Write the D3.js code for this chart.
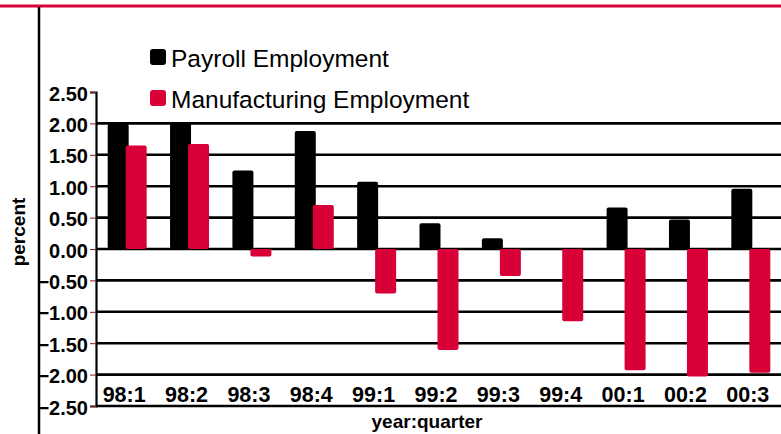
<!DOCTYPE html>
<html>
<head>
<meta charset="utf-8">
<script src="https://cdn.jsdelivr.net/npm/d3@7"></script>
<style>
    body { margin: 0; background: #fff; }
    svg { display: block; font-family: "Liberation Sans", Arial, sans-serif; }
</style>
</head>
<body>
<div id="chart"></div>
<script>
// Data
const quarters = ['98:1', '98:2', '98:3', '98:4', '99:1', '99:2', '99:3', '99:4', '00:1', '00:2', '00:3'];
const payroll = [1.99, 2.02, 1.25, 1.88, 1.07, 0.41, 0.17, 0.0, 0.66, 0.47, 0.96];
const manufacturing = [1.65, 1.67, -0.12, 0.70, -0.71, -1.61, -0.43, -1.15, -1.93, -2.03, -1.97];
const seriesNames = ['Payroll Employment', 'Manufacturing Employment'];
const yTicks = [2.5, 2.0, 1.5, 1.0, 0.5, 0.0, -0.5, -1.0, -1.5, -2.0, -2.5];

const colors = { 'Payroll Employment': '#000000', 'Manufacturing Employment': '#d80036' };

const width = 781;
const height = 434;

const svg = d3.select('#chart')
    .append('svg')
    .attr('width', width)
    .attr('height', height);

// Scales
const x = d3.scaleBand()
    .domain(quarters)
    .range([96, 782])
    .paddingInner(0);

const x1 = d3.scaleBand()
    .domain(seriesNames)
    .range([0, 36]);

const y = d3.scaleLinear()
    .domain([-2.5, 2.5])
    .range([406, 92]);

const barWidth = 21;
const groupOffset = (x.bandwidth() - (x1.bandwidth() + barWidth)) / 2;

// Header rule and left frame line
svg.append('line')
    .attr('x1', 0).attr('x2', width)
    .attr('y1', 6).attr('y2', 6)
    .attr('stroke', '#d80036')
    .attr('stroke-width', 2.8);

svg.append('line')
    .attr('x1', 39).attr('x2', 39)
    .attr('y1', 7).attr('y2', height)
    .attr('stroke', '#000')
    .attr('stroke-width', 2.5);

// Gridlines (none at the top value)
svg.append('g')
    .selectAll('line')
    .data(yTicks.filter(d => d < 2.5))
    .join('line')
    .attr('x1', 96).attr('x2', width)
    .attr('y1', d => y(d)).attr('y2', d => y(d))
    .attr('stroke', '#000')
    .attr('stroke-width', 2.6);

// Y axis
const yAxis = svg.append('g')
    .attr('transform', 'translate(96,0)')
    .call(d3.axisLeft(y)
        .tickValues(yTicks)
        .tickSize(6)
        .tickPadding(2)
        .tickFormat(d3.format('.2f')));

yAxis.select('.domain')
    .attr('stroke', '#000')
    .attr('stroke-width', 2.2);
yAxis.selectAll('.tick line')
    .attr('stroke', '#8b1a1a')
    .attr('stroke-width', 1);
yAxis.selectAll('.tick text')
    .attr('fill', '#000')
    .attr('font-size', 20)
    .attr('font-weight', 'bold')
    .attr('font-family', '"Liberation Sans", Arial, sans-serif')
    .attr('dy', '0.4em');

// Bars: payroll first, manufacturing drawn over it
const groups = svg.append('g')
    .selectAll('g')
    .data(quarters)
    .join('g')
    .attr('transform', d => `translate(${x(d) + groupOffset},0)`);

groups.append('rect')
    .attr('x', x1('Payroll Employment'))
    .attr('y', (d, i) => y(Math.max(0, payroll[i])))
    .attr('width', barWidth)
    .attr('height', (d, i) => Math.abs(y(payroll[i]) - y(0)))
    .attr('rx', 2)
    .attr('fill', colors['Payroll Employment']);

groups.append('rect')
    .attr('x', x1('Manufacturing Employment'))
    .attr('y', (d, i) => y(Math.max(0, manufacturing[i])))
    .attr('width', barWidth)
    .attr('height', (d, i) => Math.abs(y(manufacturing[i]) - y(0)))
    .attr('rx', 2)
    .attr('fill', colors['Manufacturing Employment']);

// Category labels
svg.append('g')
    .selectAll('text')
    .data(quarters)
    .join('text')
    .attr('x', d => x(d) + x.bandwidth() / 2 - 3)
    .attr('y', 402)
    .attr('text-anchor', 'middle')
    .attr('font-size', 21.5)
    .attr('font-weight', 'bold')
    .text(d => d);

// Axis titles
svg.append('text')
    .attr('x', 427)
    .attr('y', 428)
    .attr('text-anchor', 'middle')
    .attr('font-size', 19)
    .attr('font-weight', 'bold')
    .text('year:quarter');

svg.append('text')
    .attr('transform', 'translate(25,232) rotate(-90)')
    .attr('text-anchor', 'middle')
    .attr('font-size', 19)
    .attr('font-weight', 'bold')
    .text('percent');

// Legend
const legend = svg.append('g')
    .selectAll('g')
    .data(seriesNames)
    .join('g')
    .attr('transform', (d, i) => `translate(150,${49 + i * 41})`);

legend.append('rect')
    .attr('width', 16)
    .attr('height', 16)
    .attr('rx', 3)
    .attr('fill', d => colors[d]);

legend.append('text')
    .attr('x', 21)
    .attr('y', 17.5)
    .attr('font-size', 24.5)
    .attr('fill', '#000')
    .text(d => d);
</script>
</body>
</html>
